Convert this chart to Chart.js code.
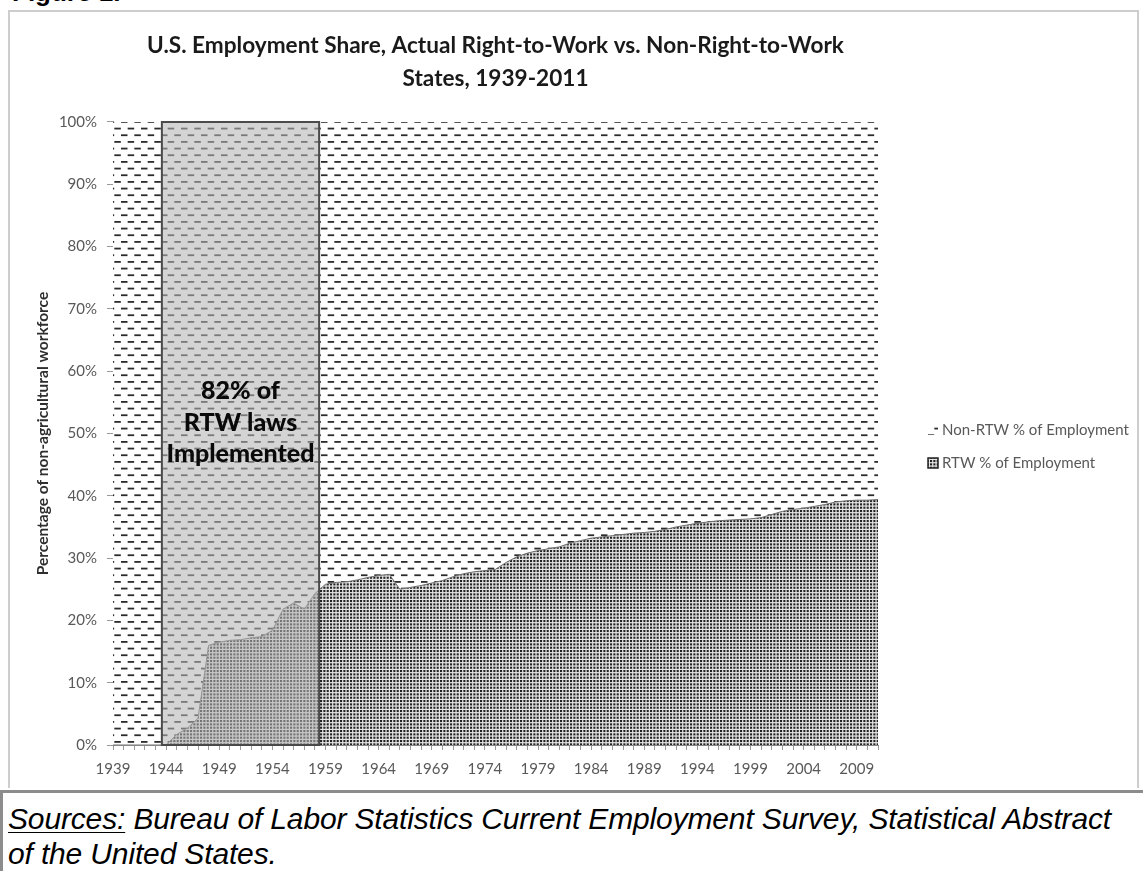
<!DOCTYPE html>
<html>
<head>
<meta charset="utf-8">
<script src="https://cdn.jsdelivr.net/npm/chart.js@4.4.1/dist/chart.umd.min.js"></script>
<style>
  html, body { margin: 0; padding: 0; background: #fff; }
  body { width: 1143px; height: 871px; position: relative; overflow: hidden; }
  #figlabel { position: absolute; left: 12px; top: -23px; font: bold 26px "Liberation Sans", Arial, sans-serif; color: #000; }
  #frame { position: absolute; left: 8px; top: 10px; width: 1131px; height: 778px; border: 2px solid #cdcdcd; border-bottom: none; box-sizing: border-box; }
  #wrap { position: absolute; left: 0; top: 0; width: 1143px; height: 790px; }
  #sources { position: absolute; left: 0; top: 790px; width: 1143px; height: 81px; border-top: 3px solid #8c8c8c; border-left: 3px solid #8c8c8c; box-sizing: border-box; padding: 8px 0 0 5px; font: italic 30px "Liberation Sans", Arial, sans-serif; line-height: 35px; color: #000; letter-spacing: -0.15px; white-space: nowrap; }
  #sources u { text-decoration-thickness: 1px; text-underline-offset: 3px; }
</style>
</head>
<body>
<div id="figlabel">Figure 1.</div>
<div id="frame"></div>
<div id="wrap"><canvas id="chart" width="1143" height="790"></canvas></div>
<div id="sources"><u>Sources:</u> Bureau of Labor Statistics Current Employment Survey, Statistical Abstract<br>of the United States.</div>
<script>
// Years on the horizontal axis
const years = [];
for (let y = 1939; y <= 2011; y++) years.push(y);

// Share of non-agricultural employment in right-to-work states (%)
const rtwShare = [
  0, 0, 0, 0, 0,
  0, 1.7, 2.7, 4.3, 16.0,
  16.5, 16.8, 16.9, 17.2, 17.4,
  18.4, 21.8, 22.8, 21.8, 24.3,
  25.8, 26.1, 26.2, 26.5, 26.9,
  27.2, 27.4, 25.0, 25.3, 25.6,
  26.0, 26.4, 27.0, 27.5, 27.8,
  28.0, 28.2, 29.3, 30.2, 30.8,
  31.2, 31.5, 31.8, 32.4, 32.8,
  33.2, 33.4, 33.6, 33.8, 34.0,
  34.1, 34.3, 34.6, 35.0, 35.3,
  35.6, 35.8, 36.0, 36.1, 36.2,
  36.3, 36.5, 37.0, 37.5, 37.8,
  38.0, 38.3, 38.6, 39.0, 39.2,
  39.3, 39.3, 39.4
];

// Share of non-agricultural employment in non-right-to-work states (%)
const nonRtwShare = [
  100, 100, 100, 100, 100,
  100, 98.3, 97.3, 95.7, 84.0,
  83.5, 83.2, 83.1, 82.8, 82.6,
  81.6, 78.2, 77.2, 78.2, 75.7,
  74.2, 73.9, 73.8, 73.5, 73.1,
  72.8, 72.6, 75.0, 74.7, 74.4,
  74.0, 73.6, 73.0, 72.5, 72.2,
  72.0, 71.8, 70.7, 69.8, 69.2,
  68.8, 68.5, 68.2, 67.6, 67.2,
  66.8, 66.6, 66.4, 66.2, 66.0,
  65.9, 65.7, 65.4, 65.0, 64.7,
  64.4, 64.2, 64.0, 63.9, 63.8,
  63.7, 63.5, 63.0, 62.5, 62.2,
  62.0, 61.7, 61.4, 61.0, 60.8,
  60.7, 60.7, 60.6
];

// Y tick values (%)
const yTicks = [0, 10, 20, 30, 40, 50, 60, 70, 80, 90, 100];

// Period in which most right-to-work laws were passed
const lawPeriod = [1943.6, 1958.4];
const lawNote = ['82% of', 'RTW laws', 'Implemented'];

const seriesNames = ['RTW % of Employment', 'Non-RTW % of Employment'];
const titleLines = ['U.S. Employment Share, Actual Right-to-Work vs. Non-Right-to-Work', 'States, 1939-2011'];

// Fill patterns
function dashPattern(bg) {
  const c = document.createElement('canvas');
  c.width = 40; c.height = 40;
  const g = c.getContext('2d');
  if (bg) { g.fillStyle = bg; g.fillRect(0, 0, 40, 40); }
  g.fillStyle = '#2c2c2c';
  const s = 40 / 3;
  for (let r = 0; r < 6; r++) {
    const y = r * s / 2 + 1;
    const off = (r % 2) ? s / 2 : 0;
    for (let k = -1; k < 4; k++) g.fillRect(off + k * s + 1, y, 6.5, 1.8);
  }
  return g.createPattern(c, 'repeat');
}
function dotPattern() {
  const c = document.createElement('canvas');
  c.width = 10; c.height = 10;
  const g = c.getContext('2d');
  g.fillStyle = '#e6e6e6'; g.fillRect(0, 0, 10, 10);
  g.fillStyle = '#222222';
  const s = 10 / 3;
  for (let i = 0; i < 3; i++)
    for (let j = 0; j < 3; j++) g.fillRect(i * s, j * s, 2.1, 2.1);
  return g.createPattern(c, 'repeat');
}
const dashFill = dashPattern('#ffffff');
const dotFill = dotPattern();

// Shaded period box with its note
const periodBox = {
  id: 'periodBox',
  afterDatasetsDraw(chart) {
    const { ctx, scales: { x, y } } = chart;
    const x0 = x.getPixelForValue(lawPeriod[0] - years[0]);
    const x1 = x.getPixelForValue(lawPeriod[1] - years[0]);
    const y0 = y.getPixelForValue(100);
    const y1 = y.getPixelForValue(0);
    ctx.save();
    ctx.fillStyle = 'rgba(180,180,180,0.57)';
    ctx.fillRect(x0, y0, x1 - x0, y1 - y0);
    ctx.strokeStyle = '#4a4a4a';
    ctx.lineWidth = 2;
    ctx.strokeRect(x0, y0, x1 - x0, y1 - y0);
    ctx.fillStyle = '#0a0a0a';
    ctx.font = '900 25px Lato, "Open Sans", sans-serif';
    ctx.textAlign = 'center';
    ctx.textBaseline = 'middle';
    const cx = (x0 + x1) / 2;
    const cy = y.getPixelForValue(51.7);
    lawNote.forEach((t, i) => ctx.fillText(t, cx, cy + (i - 1) * 31.5));
    ctx.restore();
  }
};

// Legend at the right of the plot
const sideLegend = {
  id: 'sideLegend',
  afterDraw(chart) {
    const { ctx, chartArea } = chart;
    const lx = chartArea.right + 50;
    const items = [
      { text: seriesNames[1], fill: dashFill, border: null, y: 430 },
      { text: seriesNames[0], fill: dotFill, border: '#222', y: 463 }
    ];
    ctx.save();
    ctx.font = '15px Lato, "Open Sans", sans-serif';
    ctx.textBaseline = 'middle';
    ctx.textAlign = 'left';
    items.forEach(it => {
      ctx.fillStyle = it.fill;
      ctx.fillRect(lx, it.y - 5, 10, 10);
      if (it.border) { ctx.strokeStyle = it.border; ctx.lineWidth = 1.5; ctx.strokeRect(lx, it.y - 5, 10, 10); }
      ctx.fillStyle = '#595959';
      ctx.fillText(it.text, lx + 14, it.y);
    });
    ctx.restore();
  }
};

const tickFont = { family: 'Lato, "Open Sans", sans-serif', size: 15 };

new Chart(document.getElementById('chart'), {
  type: 'line',
  data: {
    labels: years,
    datasets: [
      {
        label: seriesNames[0],
        data: rtwShare,
        fill: 'origin',
        backgroundColor: dotFill,
        borderColor: '#6e6e6e',
        borderWidth: 1,
        pointRadius: 0,
        tension: 0
      },
      {
        label: seriesNames[1],
        data: nonRtwShare,
        fill: '-1',
        backgroundColor: dashFill,
        borderColor: 'rgba(0,0,0,0)',
        borderWidth: 0,
        pointRadius: 0,
        tension: 0
      }
    ]
  },
  options: {
    responsive: false,
    animation: false,
    events: [],
    layout: { padding: { left: 34, right: 265, top: 0, bottom: 0 } },
    plugins: {
      legend: { display: false },
      tooltip: { enabled: false },
      title: {
        display: true,
        fullSize: false,
        text: titleLines,
        color: '#1a1a1a',
        font: { family: 'Lato, "Open Sans", sans-serif', size: 22.6, weight: '700', lineHeight: 1.46 },
        padding: { top: 29, bottom: 27 }
      }
    },
    scales: {
      x: {
        type: 'category',
        z: 1,
        border: { display: true, color: '#878787', width: 1 },
        grid: { display: true, drawOnChartArea: false, drawTicks: true, tickLength: 5, color: '#9a9a9a' },
        ticks: {
          autoSkip: false, maxRotation: 0, minRotation: 0, padding: 10,
          color: '#595959', font: tickFont,
          callback: (v, i) => ((years[i] - years[0]) % 5 === 0 ? String(years[i]) : '')
        },
        afterFit(scale) { scale.height = 45; }
      },
      y: {
        stacked: true,
        min: 0, max: 100,
        z: 1,
        border: { display: true, color: '#878787', width: 1 },
        grid: { display: true, drawOnChartArea: false, drawTicks: true, tickLength: 6, color: '#9a9a9a' },
        afterBuildTicks(scale) { scale.ticks = yTicks.map(v => ({ value: v })); },
        ticks: { padding: 10, color: '#595959', font: tickFont, callback: v => v + '%' },
        title: {
          display: true,
          text: 'Percentage of non-agricultural workforce',
          color: '#2e2e2e',
          font: { family: 'Lato, "Open Sans", sans-serif', size: 15.5, weight: '700' },
          padding: { top: 0, bottom: 0 }
        },
        afterFit(scale) { scale.width = 79; }
      }
    }
  },
  plugins: [periodBox, sideLegend]
});
</script>
</body>
</html>
